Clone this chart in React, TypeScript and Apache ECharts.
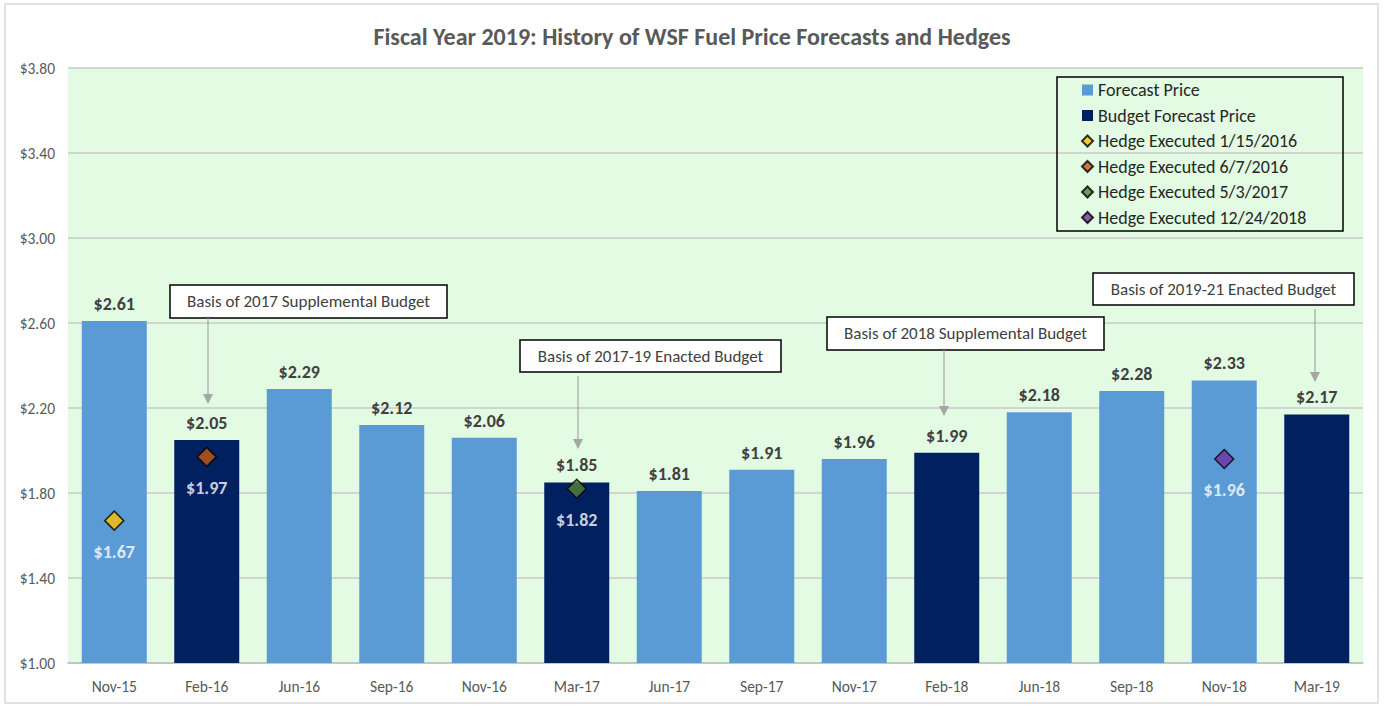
import React, { useEffect, useRef } from "react";
import * as echarts from "echarts";

const categories = ["Nov-15", "Feb-16", "Jun-16", "Sep-16", "Nov-16", "Mar-17", "Jun-17", "Sep-17", "Nov-17", "Feb-18", "Jun-18", "Sep-18", "Nov-18", "Mar-19"];
const forecastPrice = [2.61, null, 2.29, 2.12, 2.06, null, 1.81, 1.91, 1.96, null, 2.18, 2.28, 2.33, null];
const budgetForecastPrice = [null, 2.05, null, null, null, 1.85, null, null, null, 1.99, null, null, null, 2.17];
const hedge20160115 = [1.67, null, null, null, null, null, null, null, null, null, null, null, null, null];
const hedge20160607 = [null, 1.97, null, null, null, null, null, null, null, null, null, null, null, null];
const hedge20170503 = [null, null, null, null, null, 1.82, null, null, null, null, null, null, null, null];
const hedge20181224 = [null, null, null, null, null, null, null, null, null, null, null, null, 1.96, null];
const yTicks = { min: 1.0, max: 3.8, interval: 0.4 };

const annotations = [
  { text: "Basis of 2017 Supplemental Budget", x: 170, y: 285, w: 277, h: 33, ax: 208, ay1: 318, ay2: 404 },
  { text: "Basis of 2017-19 Enacted Budget", x: 520, y: 340, w: 261, h: 32, ax: 578, ay1: 376, ay2: 449 },
  { text: "Basis of 2018 Supplemental Budget", x: 827, y: 317, w: 277, h: 33, ax: 944, ay1: 350, ay2: 416 },
  { text: "Basis of 2019-21 Enacted Budget", x: 1093, y: 273, w: 261, h: 32, ax: 1315, ay1: 309, ay2: 382 },
];

const FONT = "Carlito, Calibri, 'Liberation Sans', Arial, sans-serif";

export default function App() {
  const ref = useRef<HTMLDivElement>(null);
  useEffect(() => {
    if (!ref.current) return;
    const chart = echarts.init(ref.current, undefined, { renderer: "svg" });
    const barLabel = {
      show: true,
      position: "top" as const,
      distance: 8,
      fontSize: 18,
      fontWeight: "bold" as const,
      color: "#404040",
      fontFamily: FONT,
      formatter: (p: any) => "$" + Number(p.value).toFixed(2),
    };
    const hedgeSeries = (name: string, data: (number | null)[], color: string) => ({
      name,
      type: "scatter",
      data,
      symbol: "diamond",
      symbolSize: [19, 19],
      itemStyle: { color, borderColor: "#000", borderWidth: 1.5 },
      label: {
        show: true,
        position: "bottom",
        distance: 12,
        fontSize: 18,
        fontWeight: "bold",
        color: "#ffffff",
        fontFamily: FONT,
        formatter: (p: any) => "$" + Number(p.value).toFixed(2),
      },
      z: 5,
    });
    const graphics: any[] = [
      { type: "rect", shape: { x: 5, y: 4, width: 1373, height: 699 }, style: { fill: "none", stroke: "#d9d9d9", lineWidth: 1.5 }, z: 0 },
      { type: "rect", shape: { x: 1057, y: 77, width: 286, height: 154 }, style: { fill: "none", stroke: "#000", lineWidth: 1.5 }, z: 10 },
    ];
    annotations.forEach((a) => {
      graphics.push({ type: "rect", shape: { x: a.x, y: a.y, width: a.w, height: a.h }, style: { fill: "#fff", stroke: "#000", lineWidth: 1.5 }, z: 10 });
      graphics.push({ type: "text", x: a.x + a.w / 2, y: a.y + a.h / 2, style: { text: a.text, fontSize: 17, fill: "#404040", fontFamily: FONT, align: "center", verticalAlign: "middle" }, z: 11 });
      graphics.push({ type: "line", shape: { x1: a.ax, y1: a.ay1, x2: a.ax, y2: a.ay2 - 8 }, style: { stroke: "#a6a6a6", lineWidth: 1.2 }, z: 10 });
      graphics.push({ type: "polygon", shape: { points: [[a.ax - 5, a.ay2 - 10], [a.ax + 5, a.ay2 - 10], [a.ax, a.ay2]] }, style: { fill: "#a6a6a6" }, z: 10 });
    });
    chart.setOption({
      animation: false,
      backgroundColor: "#ffffff",
      title: {
        text: "Fiscal Year 2019: History of WSF Fuel Price Forecasts and Hedges",
        left: "center",
        top: 19,
        textStyle: { fontSize: 24, fontWeight: "bold", color: "#595959", fontFamily: FONT },
      },
      grid: { left: 68, right: 21, top: 68, bottom: 42, show: true, backgroundColor: "#e2fbe2", borderWidth: 0 },
      legend: {
        orient: "vertical",
        left: 1076,
        top: 76,
        itemGap: 7.5,
        itemWidth: 11,
        itemHeight: 11,
        textStyle: { fontSize: 18, color: "#262626", fontFamily: FONT },
        data: [
          { name: "Forecast Price", icon: "rect" },
          { name: "Budget Forecast Price", icon: "rect" },
          { name: "Hedge Executed 1/15/2016", icon: "diamond" },
          { name: "Hedge Executed 6/7/2016", icon: "diamond" },
          { name: "Hedge Executed 5/3/2017", icon: "diamond" },
          { name: "Hedge Executed 12/24/2018", icon: "diamond" },
        ],
      },
      xAxis: {
        type: "category",
        data: categories,
        axisLine: { lineStyle: { color: "#bfbfbf", width: 1.5 } },
        axisTick: { show: false },
        axisLabel: { fontSize: 15.5, color: "#595959", margin: 15, fontFamily: FONT },
      },
      yAxis: {
        type: "value",
        min: yTicks.min,
        max: yTicks.max,
        interval: yTicks.interval,
        axisLine: { show: false },
        axisTick: { show: false },
        axisLabel: { fontSize: 15.5, color: "#595959", margin: 13, fontFamily: FONT, formatter: (v: number) => "$" + v.toFixed(2) },
        splitLine: { lineStyle: { color: "#c8c8c8", width: 1.5 } },
      },
      series: [
        { name: "Forecast Price", type: "bar", data: forecastPrice, barWidth: 65, barGap: "-100%", itemStyle: { color: "#5b9bd5" }, label: barLabel },
        { name: "Budget Forecast Price", type: "bar", data: budgetForecastPrice, barWidth: 65, barGap: "-100%", itemStyle: { color: "#002060" }, label: barLabel },
        hedgeSeries("Hedge Executed 1/15/2016", hedge20160115, "#ffc000"),
        hedgeSeries("Hedge Executed 6/7/2016", hedge20160607, "#c55a11"),
        hedgeSeries("Hedge Executed 5/3/2017", hedge20170503, "#548235"),
        hedgeSeries("Hedge Executed 12/24/2018", hedge20181224, "#7030a0"),
      ],
      graphic: graphics,
    });
    return () => chart.dispose();
  }, []);
  return <div ref={ref} style={{ position: "fixed", left: 0, top: 0, width: 1384, height: 705 }} />;
}
